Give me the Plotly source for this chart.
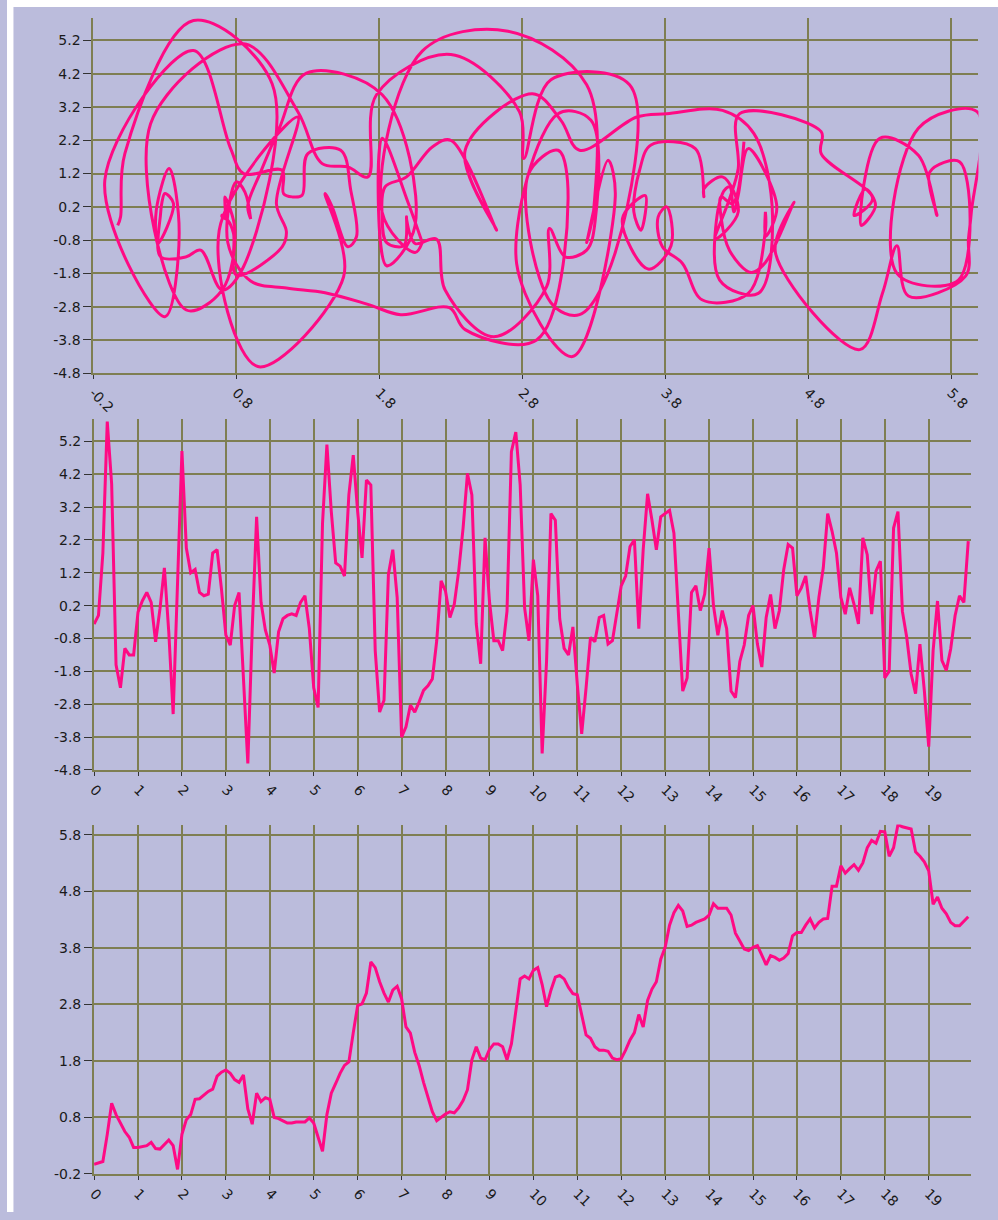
import plotly.graph_objects as go

# time axis (shared by middle and bottom panels)
t = [round(i * 0.1, 1) for i in range(200)]

# middle panel series (y component)
y_series = [
    -0.36, -0.1, 1.8, 5.8, 3.9, -1.6, -2.3, -1.1, -1.3, -1.3,
    0.0, 0.35, 0.6, 0.3, -0.9, 0.1, 1.35, -0.6, -3.1, 1.0,
    4.9, 1.95, 1.2, 1.3, 0.6, 0.5, 0.55, 1.8, 1.9, 0.7,
    -0.7, -1.0, 0.2, 0.6, -1.9, -4.6, -0.5, 2.9, 0.3, -0.55,
    -1.0, -1.85, -0.6, -0.2, -0.1, -0.05, -0.1, 0.3, 0.5, -0.5,
    -2.3, -2.9, 2.7, 5.1, 3.06, 1.5, 1.4, 1.1, 3.57, 4.78,
    3.06, 1.65, 4.02, 3.87, -1.17, -3.04, -2.68, 1.15, 1.9, 0.44,
    -3.8, -3.49, -2.83, -3.04, -2.73, -2.38, -2.24, -2.03, -0.87, 0.95,
    0.64, -0.16, 0.24, 1.25, 2.56, 4.22, 3.57, -0.36, -1.57, 2.26,
    0.34, -0.87, -0.87, -1.17, 0.03, 4.88, 5.48, 3.87, 0.14, -0.87,
    1.6, 0.5, -4.3, -1.5, 3.0, 2.8, -0.2, -1.1, -1.3, -0.45,
    -2.2, -3.7, -2.3, -0.77, -0.9, -0.16, -0.1, -0.97, -0.87, -0.1,
    0.8, 1.1, 2.0, 2.2, -0.5, 1.9, 3.6, 2.8, 1.9, 2.9,
    3.0, 3.1, 2.4, -0.1, -2.4, -2.0, 0.6, 0.8, 0.05, 0.55,
    1.95, 0.2, -0.7, 0.05, -0.5, -2.4, -2.6, -1.5, -1.0, -0.1,
    0.2, -0.97, -1.67, -0.16, 0.54, -0.5, 0.05, 1.3, 2.06, 1.95,
    0.5, 0.74, 1.1, 0.05, -0.77, 0.45, 1.35, 3.0, 2.46, 1.8,
    0.45, -0.06, 0.74, 0.24, -0.36, 2.26, 1.75, -0.06, 1.25, 1.55,
    -2.0, -1.8, 2.56, 3.06, 0.03, -0.77, -1.88, -2.48, -0.97, -2.38,
    -4.09, -1.17, 0.34, -1.47, -1.77, -1.12, -0.11, 0.5, 0.3, 2.16,
]

# bottom panel series (x component)
x_series = [
    -0.03, -0.01, 0.02, 0.5, 1.05, 0.85, 0.7, 0.55, 0.45, 0.27,
    0.27, 0.28, 0.3, 0.36, 0.25, 0.24, 0.33, 0.4, 0.3, -0.12,
    0.5, 0.76, 0.85, 1.12, 1.13, 1.19, 1.26, 1.3, 1.53, 1.6,
    1.64, 1.58, 1.47, 1.42, 1.55, 0.95, 0.68, 1.23, 1.08, 1.15,
    1.12, 0.8, 0.78, 0.74, 0.7, 0.7, 0.72, 0.72, 0.72, 0.79,
    0.7, 0.45, 0.2, 0.85, 1.23, 1.4, 1.58, 1.72, 1.78, 2.3,
    2.78, 2.81, 3.0, 3.55, 3.45, 3.2, 3.0, 2.84, 3.05, 3.12,
    2.9, 2.4, 2.29, 1.95, 1.72, 1.42, 1.15, 0.9, 0.74, 0.8,
    0.86, 0.9, 0.88, 0.97, 1.1, 1.29, 1.82, 2.05, 1.85, 1.82,
    2.0, 2.1, 2.1, 2.05, 1.82, 2.1, 2.7, 3.25, 3.3, 3.25,
    3.4, 3.45, 3.15, 2.76, 3.05, 3.28, 3.31, 3.25, 3.1, 2.99,
    2.97, 2.6, 2.26, 2.2, 2.05, 1.99, 1.99, 1.97, 1.85, 1.82,
    1.84, 1.99, 2.17, 2.3, 2.62, 2.4, 2.87, 3.07, 3.2, 3.6,
    3.81, 4.2, 4.42, 4.55, 4.45, 4.18, 4.2, 4.25, 4.28, 4.31,
    4.38, 4.58, 4.5, 4.5, 4.5, 4.38, 4.06, 3.92, 3.78, 3.75,
    3.81, 3.84, 3.68, 3.5, 3.66, 3.63, 3.58, 3.62, 3.7, 4.01,
    4.07, 4.07, 4.2, 4.31, 4.15, 4.25, 4.31, 4.32, 4.89, 4.89,
    5.25, 5.12, 5.2, 5.27, 5.17, 5.3, 5.57, 5.7, 5.65, 5.86,
    5.85, 5.42, 5.57, 5.98, 5.94, 5.92, 5.9, 5.5, 5.42, 5.32,
    5.16, 4.57, 4.7, 4.5, 4.4, 4.25, 4.19, 4.19, 4.27, 4.35,
]

# tick labels
top_x_ticks = [-0.2, 0.8, 1.8, 2.8, 3.8, 4.8, 5.8]
top_x_labels = ["-0.2", "0.8", "1.8", "2.8", "3.8", "4.8", "5.8"]
y_ticks = [-4.8, -3.8, -2.8, -1.8, -0.8, 0.2, 1.2, 2.2, 3.2, 4.2, 5.2]
y_labels = ["-4.8", "-3.8", "-2.8", "-1.8", "-0.8", "0.2", "1.2", "2.2", "3.2", "4.2", "5.2"]
t_ticks = list(range(20))
t_labels = [str(v) for v in t_ticks]
bot_y_ticks = [-0.2, 0.8, 1.8, 2.8, 3.8, 4.8, 5.8]
bot_y_labels = ["-0.2", "0.8", "1.8", "2.8", "3.8", "4.8", "5.8"]

W, H = 998, 1220
BG = "#BBBCDC"
GRID = "#7E7E52"
LINE = "#FF0A84"
TICKFONT = dict(family="Verdana, DejaVu Sans, sans-serif", size=14, color="#1a1a1a")


def px_x(p):
    return p / W


def px_y(p):
    return 1 - p / H


fig = go.Figure()
fig.add_trace(go.Scatter(x=x_series, y=y_series, mode="lines",
                         line=dict(color=LINE, width=3, shape="spline", smoothing=1.0),
                         xaxis="x", yaxis="y", showlegend=False))
fig.add_trace(go.Scatter(x=t, y=y_series, mode="lines",
                         line=dict(color=LINE, width=3), xaxis="x2", yaxis="y2",
                         showlegend=False))
fig.add_trace(go.Scatter(x=t, y=x_series, mode="lines",
                         line=dict(color=LINE, width=3), xaxis="x3", yaxis="y3",
                         showlegend=False))

common = dict(showgrid=True, gridcolor=GRID, gridwidth=2, zeroline=False,
              showline=True, linecolor=GRID, linewidth=2,
              ticks="outside", tickcolor="#333333", tickwidth=1,
              tickfont=TICKFONT, tickmode="array")

fig.update_layout(
    width=W, height=H,
    margin=dict(l=0, r=0, t=0, b=0),
    paper_bgcolor=BG, plot_bgcolor=BG,
    showlegend=False,
    xaxis=dict(common, domain=[px_x(87), px_x(978.3)], range=[-0.2, 5.99],
               anchor="y", tickvals=top_x_ticks, ticktext=top_x_labels,
               tickangle=45, ticklen=4),
    yaxis=dict(common, domain=[px_y(375.7), px_y(18.3)], range=[-4.8, 5.87],
               anchor="x", tickvals=y_ticks, ticktext=y_labels, ticklen=8),
    xaxis2=dict(common, domain=[px_x(87.7), px_x(970.7)], range=[0, 19.96],
                anchor="y2", tickvals=t_ticks, ticktext=t_labels,
                tickangle=45, ticklen=4),
    yaxis2=dict(common, domain=[px_y(775), px_y(421.7)], range=[-4.8, 5.88],
                anchor="x2", tickvals=y_ticks, ticktext=y_labels, ticklen=8),
    xaxis3=dict(common, domain=[px_x(87.7), px_x(970.7)], range=[0, 19.96],
                anchor="y3", tickvals=t_ticks, ticktext=t_labels,
                tickangle=45, ticklen=4),
    yaxis3=dict(common, domain=[px_y(1181.7), px_y(830)], range=[-0.2, 5.98],
                anchor="x3", tickvals=bot_y_ticks, ticktext=bot_y_labels,
                ticklen=8),
    shapes=[
        dict(type="rect", xref="paper", yref="paper", x0=0, x1=px_x(6.5),
             y0=0, y1=1, fillcolor="white", line=dict(width=0), layer="above"),
        dict(type="rect", xref="paper", yref="paper", x0=0, x1=1,
             y0=px_y(7), y1=1, fillcolor="white", line=dict(width=0), layer="above"),
    ],
)

fig.write_html("out.html")
